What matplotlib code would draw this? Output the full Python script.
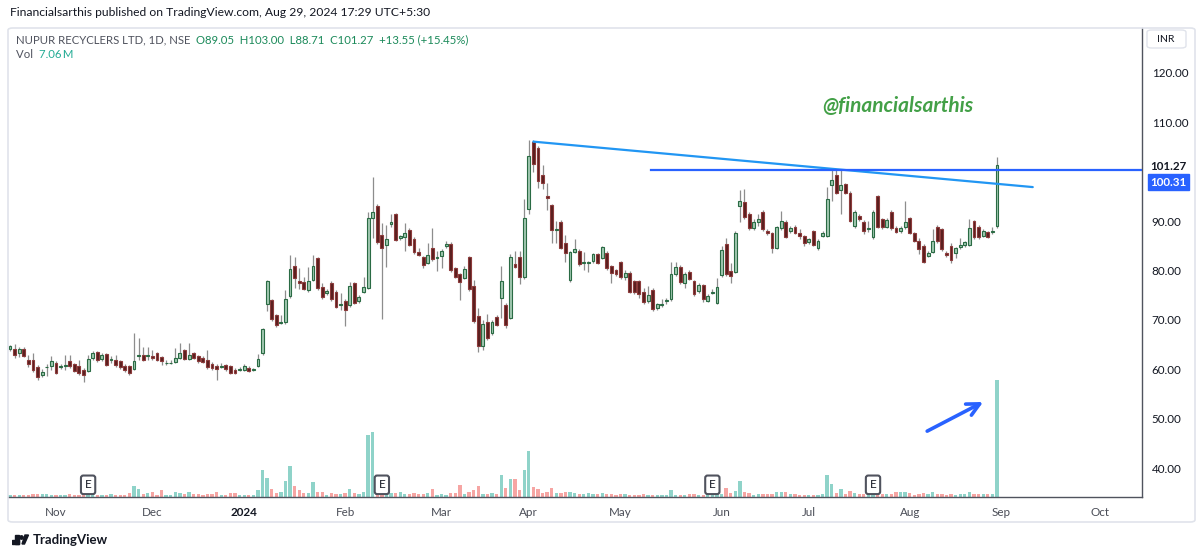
import numpy as np
import matplotlib
matplotlib.use("Agg")
import matplotlib.pyplot as plt
from matplotlib.patches import FancyBboxPatch, Rectangle, Circle, Polygon
import matplotlib.transforms as mtransforms

plt.rcParams['font.family'] = ['Lato', 'DejaVu Sans']

# ---------------- data (daily candles, NUPUR RECYCLERS LTD, NSE) ----------------
opens = [64.1, 64.1, 63.3, 64.1, 62.0, 61.9, 60.4, 58.9, 60.4, 60.7,
         61.3, 60.5, 60.7, 61.6, 61.0, 60.6, 59.9, 59.6, 62.4, 63.6,
         62.1, 63.1, 61.9, 61.9, 61.6, 60.7, 60.6, 60.0, 62.8, 63.0,
         62.7, 62.8, 63.3, 62.5, 61.2, 61.2, 61.4, 62.4, 63.9, 62.1,
         63.3, 62.7, 62.4, 61.8, 61.1, 60.7, 60.5, 60.8, 60.6, 59.9,
         59.9, 59.9, 60.3, 59.9, 60.7, 63.3, 73.2, 74.0, 71.0, 69.4,
         69.5, 74.9, 80.9, 77.9, 77.6, 76.0, 78.1, 82.6, 76.6, 75.4,
         77.4, 75.6, 73.0, 73.9, 73.0, 77.4, 73.8, 75.7, 76.5, 90.6,
         93.1, 87.2, 85.2, 89.4, 91.4, 86.5, 86.8, 88.3, 86.4, 83.8,
         82.7, 81.6, 84.5, 82.6, 83.0, 84.9, 85.4, 80.5, 79.3, 78.5,
         82.7, 76.8, 70.8, 64.7, 69.5, 67.3, 70.7, 74.4, 73.0, 70.5,
         81.3, 82.8, 78.6, 92.5, 106.1, 104.9, 99.4, 95.0, 93.3, 88.3,
         89.9, 85.5, 78.0, 83.8, 84.0, 81.5, 81.5, 81.9, 83.3, 82.6,
         83.6, 80.9, 80.1, 81.7, 78.8, 79.6, 77.8, 77.8, 75.6, 73.9,
         76.1, 72.4, 73.1, 73.8, 74.2, 79.3, 80.8, 77.4, 79.8, 77.8,
         75.9, 77.0, 73.9, 75.5, 73.5, 79.1, 85.3, 79.9, 79.8, 93.0,
         93.8, 91.4, 88.6, 89.9, 91.9, 88.0, 87.6, 84.6, 88.6, 89.9,
         88.0, 88.9, 87.6, 87.0, 85.7, 88.0, 84.5, 87.0, 87.0, 97.3,
         99.4, 96.4, 97.5, 95.8, 89.0, 91.1, 89.9, 88.4, 86.7, 95.0,
         90.4, 88.9, 91.9, 88.7, 88.0, 88.8, 90.6, 87.6, 86.0, 85.0,
         83.0, 83.8, 88.9, 88.4, 83.6, 84.9, 83.5, 84.7, 85.1, 85.2,
         90.0, 88.9, 87.1, 87.8, 87.8, 89.05]
highs = [65.0, 65.1, 64.5, 64.5, 62.9, 63.4, 60.8, 60.0, 61.0, 62.7,
         61.6, 61.0, 63.0, 63.0, 61.3, 62.0, 60.3, 63.0, 63.8, 63.8,
         63.3, 63.3, 62.8, 62.9, 61.9, 61.0, 60.9, 67.3, 66.3, 64.5,
         64.5, 64.0, 63.6, 62.8, 61.8, 61.9, 64.3, 65.3, 64.2, 65.3,
         63.6, 63.0, 62.7, 63.9, 61.4, 61.0, 61.2, 61.1, 60.9, 60.2,
         60.4, 61.0, 60.6, 60.3, 63.2, 68.3, 78.0, 74.2, 71.3, 71.0,
         76.1, 83.2, 82.7, 80.6, 78.8, 80.8, 83.2, 82.8, 77.4, 76.2,
         77.8, 76.0, 75.5, 74.2, 77.7, 77.7, 75.0, 78.8, 91.9, 99.0,
         93.5, 89.6, 89.2, 91.4, 91.7, 87.3, 89.6, 88.6, 86.8, 84.5,
         83.0, 85.5, 88.6, 84.0, 84.3, 86.0, 85.7, 80.8, 79.6, 81.0,
         83.0, 78.0, 72.5, 70.0, 71.3, 70.0, 71.0, 81.0, 73.5, 83.3,
         83.9, 84.0, 94.4, 106.4, 106.4, 105.2, 101.3, 97.8, 93.5, 90.0,
         90.3, 87.3, 84.0, 86.3, 84.3, 83.8, 82.0, 83.6, 83.6, 85.0,
         84.0, 81.2, 80.4, 82.0, 80.2, 79.9, 78.1, 78.1, 76.5, 76.8,
         76.4, 73.5, 74.2, 74.5, 81.8, 81.8, 81.1, 79.7, 80.1, 78.1,
         77.4, 77.3, 75.3, 76.2, 78.5, 85.0, 86.5, 81.5, 88.0, 96.3,
         96.6, 91.8, 90.4, 91.5, 92.2, 88.4, 87.9, 89.1, 92.0, 90.2,
         89.0, 89.2, 88.5, 87.3, 86.6, 88.3, 86.3, 88.0, 97.0, 100.5,
         100.5, 100.3, 97.8, 96.1, 92.2, 91.4, 90.2, 90.0, 92.2, 95.3,
         90.7, 90.6, 92.2, 89.0, 89.0, 94.0, 90.9, 87.9, 86.6, 85.3,
         83.9, 88.5, 89.2, 88.7, 83.9, 85.5, 84.8, 86.5, 86.0, 90.5,
         90.3, 89.2, 88.4, 88.1, 88.8, 103.00]
lows = [63.8, 62.3, 62.5, 62.5, 60.4, 59.5, 57.9, 58.5, 58.7, 59.9,
        59.0, 60.1, 59.9, 60.3, 59.4, 58.9, 57.5, 59.4, 62.0, 61.5,
        61.6, 60.6, 61.2, 60.5, 60.1, 59.5, 58.9, 59.8, 61.8, 61.6,
        62.0, 62.0, 61.7, 60.8, 60.9, 61.0, 61.2, 62.2, 61.8, 61.8,
        62.1, 61.3, 61.2, 60.1, 59.8, 57.9, 60.3, 59.7, 59.0, 59.0,
        59.6, 59.6, 59.4, 59.7, 60.4, 63.0, 71.8, 69.7, 68.6, 69.2,
        69.2, 74.5, 76.4, 76.3, 76.0, 75.6, 77.8, 76.1, 74.3, 75.1,
        73.9, 72.4, 72.0, 68.7, 72.6, 73.2, 73.5, 75.4, 76.2, 86.5,
        85.3, 70.3, 80.8, 88.9, 85.9, 86.2, 84.0, 84.9, 83.4, 82.9,
        80.5, 81.3, 82.0, 80.0, 80.5, 84.6, 79.8, 78.5, 74.0, 78.2,
        75.9, 69.4, 63.6, 64.0, 66.0, 67.0, 68.7, 70.5, 68.3, 70.2,
        80.5, 77.2, 78.3, 91.4, 100.0, 96.8, 96.5, 92.3, 85.5, 85.5,
        84.3, 81.8, 77.7, 83.5, 81.0, 80.2, 79.8, 81.5, 81.3, 82.3,
        80.2, 77.5, 79.0, 78.3, 78.0, 75.4, 75.2, 74.5, 73.2, 73.5,
        71.9, 72.1, 72.6, 73.2, 73.9, 79.0, 77.3, 76.5, 78.0, 74.9,
        75.5, 73.7, 73.6, 75.3, 73.2, 78.8, 79.0, 77.5, 79.5, 89.8,
        90.5, 88.3, 88.2, 89.0, 88.0, 87.2, 83.5, 84.3, 88.3, 86.5,
        87.6, 87.4, 86.3, 85.0, 85.4, 84.9, 84.2, 86.7, 86.7, 94.0,
        95.5, 91.5, 95.4, 89.8, 88.7, 90.1, 87.5, 87.9, 86.4, 88.6,
        88.5, 88.6, 88.3, 87.6, 87.7, 88.5, 87.4, 85.7, 83.3, 81.5,
        82.7, 83.5, 85.6, 84.0, 82.8, 81.5, 82.5, 84.4, 84.8, 84.9,
        86.4, 86.4, 86.8, 86.5, 87.4, 88.71]
closes = [64.7, 62.9, 64.1, 62.8, 61.1, 59.9, 58.5, 59.5, 60.5, 61.7,
          59.2, 60.6, 60.8, 60.6, 59.7, 59.2, 58.9, 62.2, 63.4, 61.8,
          62.9, 60.9, 62.0, 60.8, 60.4, 59.9, 59.2, 61.6, 62.9, 61.9,
          62.8, 62.3, 62.0, 61.6, 61.3, 61.3, 62.4, 63.4, 62.2, 62.9,
          62.4, 61.6, 61.5, 60.4, 60.2, 60.0, 60.6, 60.0, 59.3, 59.3,
          60.0, 60.7, 59.7, 60.0, 62.2, 68.1, 77.9, 70.3, 69.0, 69.6,
          74.2, 80.3, 78.4, 77.4, 76.3, 77.8, 80.9, 76.4, 74.7, 75.9,
          74.2, 72.7, 73.1, 72.0, 76.9, 73.5, 74.7, 76.6, 90.6, 91.8,
          85.7, 84.5, 86.4, 89.9, 86.2, 86.9, 87.7, 85.2, 83.7, 83.2,
          81.1, 83.2, 82.3, 82.7, 84.0, 85.3, 80.1, 78.8, 77.6, 80.3,
          76.2, 69.7, 64.8, 69.2, 66.4, 69.5, 69.0, 77.9, 69.0, 82.8,
          80.8, 78.6, 90.6, 103.1, 101.6, 98.1, 97.8, 94.6, 88.2, 88.5,
          84.6, 83.5, 83.7, 84.4, 81.3, 81.7, 81.7, 83.3, 81.6, 84.7,
          80.5, 79.5, 79.3, 78.6, 79.6, 75.7, 75.7, 75.3, 73.7, 75.1,
          72.2, 73.2, 73.3, 73.9, 79.3, 80.8, 77.6, 79.3, 78.3, 75.2,
          77.0, 74.2, 74.9, 75.6, 76.6, 84.2, 79.3, 79.0, 87.7, 94.1,
          90.9, 88.6, 89.9, 90.4, 88.4, 87.6, 84.5, 88.8, 90.0, 86.8,
          88.7, 87.7, 87.0, 85.5, 86.3, 85.2, 86.0, 87.7, 94.4, 98.3,
          95.8, 97.3, 95.7, 90.1, 91.9, 90.4, 88.1, 88.6, 91.9, 88.9,
          88.8, 90.3, 88.6, 87.9, 88.7, 89.9, 87.7, 86.0, 84.3, 81.8,
          83.6, 86.0, 85.9, 84.3, 83.1, 82.1, 84.5, 85.2, 85.7, 88.7,
          86.7, 86.7, 88.1, 86.8, 87.9, 101.27]
volumes_m = [0.14, 0.14, 0.10, 0.12, 0.14, 0.16, 0.20, 0.20, 0.18, 0.14,
             0.14, 0.14, 0.14, 0.18, 0.14, 0.14, 0.16, 0.18, 0.14, 0.14,
             0.14, 0.14, 0.18, 0.14, 0.14, 0.14, 0.24, 0.64, 0.50, 0.20,
             0.26, 0.30, 0.14, 0.40, 0.14, 0.14, 0.30, 0.24, 0.20, 0.28,
             0.18, 0.18, 0.14, 0.18, 0.20, 0.30, 0.14, 0.14, 0.24, 0.24,
             0.14, 0.14, 0.14, 0.14, 0.40, 1.65, 1.17, 0.50, 0.26, 0.30,
             0.96, 1.85, 0.64, 0.40, 0.26, 0.26, 0.90, 0.30, 0.30, 0.14,
             0.24, 0.20, 0.20, 0.24, 0.50, 0.24, 0.20, 0.30, 3.76, 3.92,
             0.14, 0.16, 0.20, 0.26, 0.26, 0.30, 0.20, 0.20, 0.24, 0.20,
             0.20, 0.26, 0.50, 0.10, 0.18, 0.10, 0.24, 0.24, 0.70, 0.20,
             0.30, 0.40, 0.64, 0.20, 0.20, 0.24, 0.20, 1.35, 0.54, 1.10,
             1.10, 0.40, 1.65, 2.80, 0.58, 0.46, 0.26, 0.30, 0.54, 0.26,
             0.26, 0.30, 0.30, 0.24, 0.20, 0.20, 0.26, 0.18, 0.20, 0.26,
             0.20, 0.20, 0.14, 0.20, 0.20, 0.14, 0.14, 0.14, 0.20, 0.14,
             0.14, 0.14, 0.14, 0.14, 0.44, 0.14, 0.14, 0.14, 0.18, 0.20,
             0.14, 0.14, 0.14, 0.14, 0.14, 0.18, 0.54, 0.26, 0.36, 0.94,
             0.30, 0.26, 0.14, 0.18, 0.20, 0.20, 0.20, 0.30, 0.30, 0.30,
             0.20, 0.16, 0.14, 0.14, 0.14, 0.14, 0.14, 0.20, 1.35, 0.80,
             0.26, 0.46, 0.20, 0.38, 0.26, 0.20, 0.20, 0.18, 0.18, 0.18,
             0.18, 0.20, 0.20, 0.30, 0.30, 0.30, 0.26, 0.14, 0.20, 0.26,
             0.20, 0.30, 0.20, 0.20, 0.14, 0.20, 0.14, 0.18, 0.20, 0.30,
             0.20, 0.20, 0.20, 0.20, 0.20, 7.06]

month_labels = ['Nov', 'Dec', '2024', 'Feb', 'Mar', 'Apr', 'May', 'Jun', 'Jul', 'Aug', 'Sep', 'Oct']
month_start_idx = [10, 31, 51, 73, 94, 113, 133, 155, 174, 196, 216, 237.5]
earnings_idx = [17, 81, 153, 188]
# 100.00 is hidden behind the last-price / line labels in the reference
price_ticks = [40, 50, 60, 70, 80, 90, 110, 120]

# drawings
trend_idx = [114, 222.8]
trend_price = [106.1, 96.9]
hline_start_idx = 139.6
hline_price = 100.31
arrow_from = (199.8, 47.5)
arrow_to = (212.0, 53.4)

# ---------------- figure ----------------
W, H = 1200, 557
fig = plt.figure(figsize=(W / 100, H / 100), dpi=100)
fig.patch.set_facecolor('white')

def fx(px):
    return px / W

def fy(py):
    return 1 - py / H

# outer frame
frame = FancyBboxPatch((fx(8), fy(522)), fx(1195) - fx(8), fy(28) - fy(522),
                       boxstyle="round,pad=0,rounding_size=0.004",
                       transform=fig.transFigure, fill=False,
                       edgecolor='#e0e3eb', linewidth=1.2)
fig.patches.append(frame)

ax = fig.add_axes([fx(8), fy(497), fx(1142) - fx(8), fy(28) - fy(497)])
axv = ax.twinx()
ax.set_zorder(axv.get_zorder() + 1)
ax.patch.set_visible(False)

O = np.array(opens); Hh = np.array(highs); L = np.array(lows); C = np.array(closes)
V = np.array(volumes_m)
n = len(O)
x = np.arange(n)
up = C >= O

UP_FILL, UP_EDGE = '#a2c9b1', '#2a6b44'
DN_FILL, DN_EDGE = '#5a1f1f', '#8c3b3b'
WICK = '#8d8d8d'

# volume
axv.bar(x, V, width=0.72, color=np.where(up, '#8fd3c9', '#f6a5a3'), linewidth=0)
axv.set_ylim(0, 7.06 * 469 / 117)
axv.axis('off')

# candles
ax.vlines(x, L, Hh, color=WICK, linewidth=0.9, zorder=2)
body_h = np.maximum(np.abs(C - O), 0.15)
body_b = np.minimum(O, C)
ax.bar(x[up], body_h[up], bottom=body_b[up], width=0.62,
       color=UP_FILL, edgecolor=UP_EDGE, linewidth=0.8, zorder=3)
ax.bar(x[~up], body_h[~up], bottom=body_b[~up], width=0.62,
       color=DN_FILL, edgecolor=DN_EDGE, linewidth=0.8, zorder=3)

# drawings
ax.plot(trend_idx, trend_price, color='#2196f3', linewidth=1.6, zorder=4,
        solid_capstyle='round')
ax.plot([hline_start_idx, 260], [hline_price, hline_price], color='#2962ff',
        linewidth=1.6, zorder=4)
ax.annotate('', xy=arrow_to, xytext=arrow_from,
            arrowprops=dict(arrowstyle='->,head_length=0.9,head_width=0.45',
                            color='#2962ff', linewidth=2.6,
                            shrinkA=0, shrinkB=0), zorder=5)

ax.set_xlim(-0.45, 246.6)
ax.set_ylim(34.17, 129.1)

# axes styling
ax.yaxis.tick_right()
ax.set_yticks(price_ticks)
ax.set_yticklabels([f'{p:.2f}' for p in price_ticks])
ax.tick_params(axis='y', length=0, pad=7, labelsize=8.4, labelcolor='#131722')
ax.set_xticks(month_start_idx)
ax.set_xticklabels(month_labels)
ax.tick_params(axis='x', length=0, pad=7, labelsize=8.4, labelcolor='#4a4d57')
for lbl in ax.get_xticklabels():
    if lbl.get_text() == '2024':
        lbl.set_fontweight('bold')
        lbl.set_color('#131722')
for s in ['left', 'top']:
    ax.spines[s].set_visible(False)
ax.spines['right'].set_color('#50535e')
ax.spines['bottom'].set_color('#50535e')
ax.spines['right'].set_linewidth(1.0)
ax.spines['bottom'].set_linewidth(1.0)
for s in axv.spines.values():
    s.set_visible(False)

# earnings markers
trans = mtransforms.blended_transform_factory(ax.transData, ax.transAxes)
for e in earnings_idx:
    ax.text(e, 0.026, 'E', transform=trans, ha='center', va='center',
            fontsize=8.5, color='#131722', zorder=6,
            bbox=dict(boxstyle='round,pad=0.32,rounding_size=0.2', fc='white',
                      ec='#50535e', lw=1.5))

# price labels on axis
fig.text(fx(1150), fy(166), '101.27', fontsize=8.4, fontweight='bold',
         color='#131722', va='center', ha='left')
fig.text(fx(1150), fy(182), '100.31', fontsize=8.4, fontweight='bold',
         color='white', va='center', ha='left',
         bbox=dict(boxstyle='square,pad=0.2', fc='#2962ff', ec='#2962ff'))

# INR button
inr = FancyBboxPatch((fx(1147), fy(48)), fx(1186) - fx(1147), fy(30) - fy(48),
                     boxstyle="round,pad=0,rounding_size=0.004",
                     transform=fig.transFigure, fill=False,
                     edgecolor='#e0e3eb', linewidth=1.0)
fig.patches.append(inr)
fig.text(fx(1166), fy(40), 'INR', fontsize=7.5, color='#131722', ha='center', va='center')

# header texts
fig.text(fx(10), fy(13), 'Financialsarthis published on TradingView.com, Aug 29, 2024 17:29 UTC+5:30',
         fontsize=8.7, color='#131722', va='center', ha='left')
t1 = fig.text(fx(16), fy(40), 'NUPUR RECYCLERS LTD, 1D, NSE  ', fontsize=8.2,
              color='#50535e', va='center', ha='left')
fig.canvas.draw()
bb = t1.get_window_extent()
fig.text(bb.x1 / W, fy(40), 'O89.05  H103.00  L88.71  C101.27  +13.55 (+15.45%)',
         fontsize=8.2, color='#1b8a5a', va='center', ha='left')
t2 = fig.text(fx(16), fy(55), 'Vol  ', fontsize=8.2, color='#50535e', va='center', ha='left')
fig.canvas.draw()
bb2 = t2.get_window_extent()
fig.text(bb2.x1 / W, fy(55), '7.06\u2009M', fontsize=8.2, color='#22ab94', va='center', ha='left')

# watermark handle
ax.text(0.785, 0.834, '@financialsarthis', transform=ax.transAxes, fontsize=15,
        fontweight='bold', fontstyle='italic', color='#43a047', ha='center', va='center')

# TradingView logo (simplified)
logo_ax = fig.add_axes([fx(12), fy(548), fx(30) - fx(12), fy(532) - fy(548)])
logo_ax.set_xlim(0, 18); logo_ax.set_ylim(0, 16); logo_ax.axis('off')
logo_ax.add_patch(Rectangle((0, 4), 7, 4, color='#131722'))
logo_ax.add_patch(Rectangle((3, 4), 4, 9, color='#131722'))
logo_ax.add_patch(Circle((9.5, 10.5), 1.7, color='#131722'))
logo_ax.add_patch(Polygon([[12.5, 4], [16.5, 13], [13, 13], [10, 4]], color='#131722'))
fig.text(fx(33), fy(540), 'TradingView', fontsize=9.5, color='#131722',
         va='center', ha='left', fontweight='bold')

fig.savefig('out.png', dpi=100, facecolor='white')
